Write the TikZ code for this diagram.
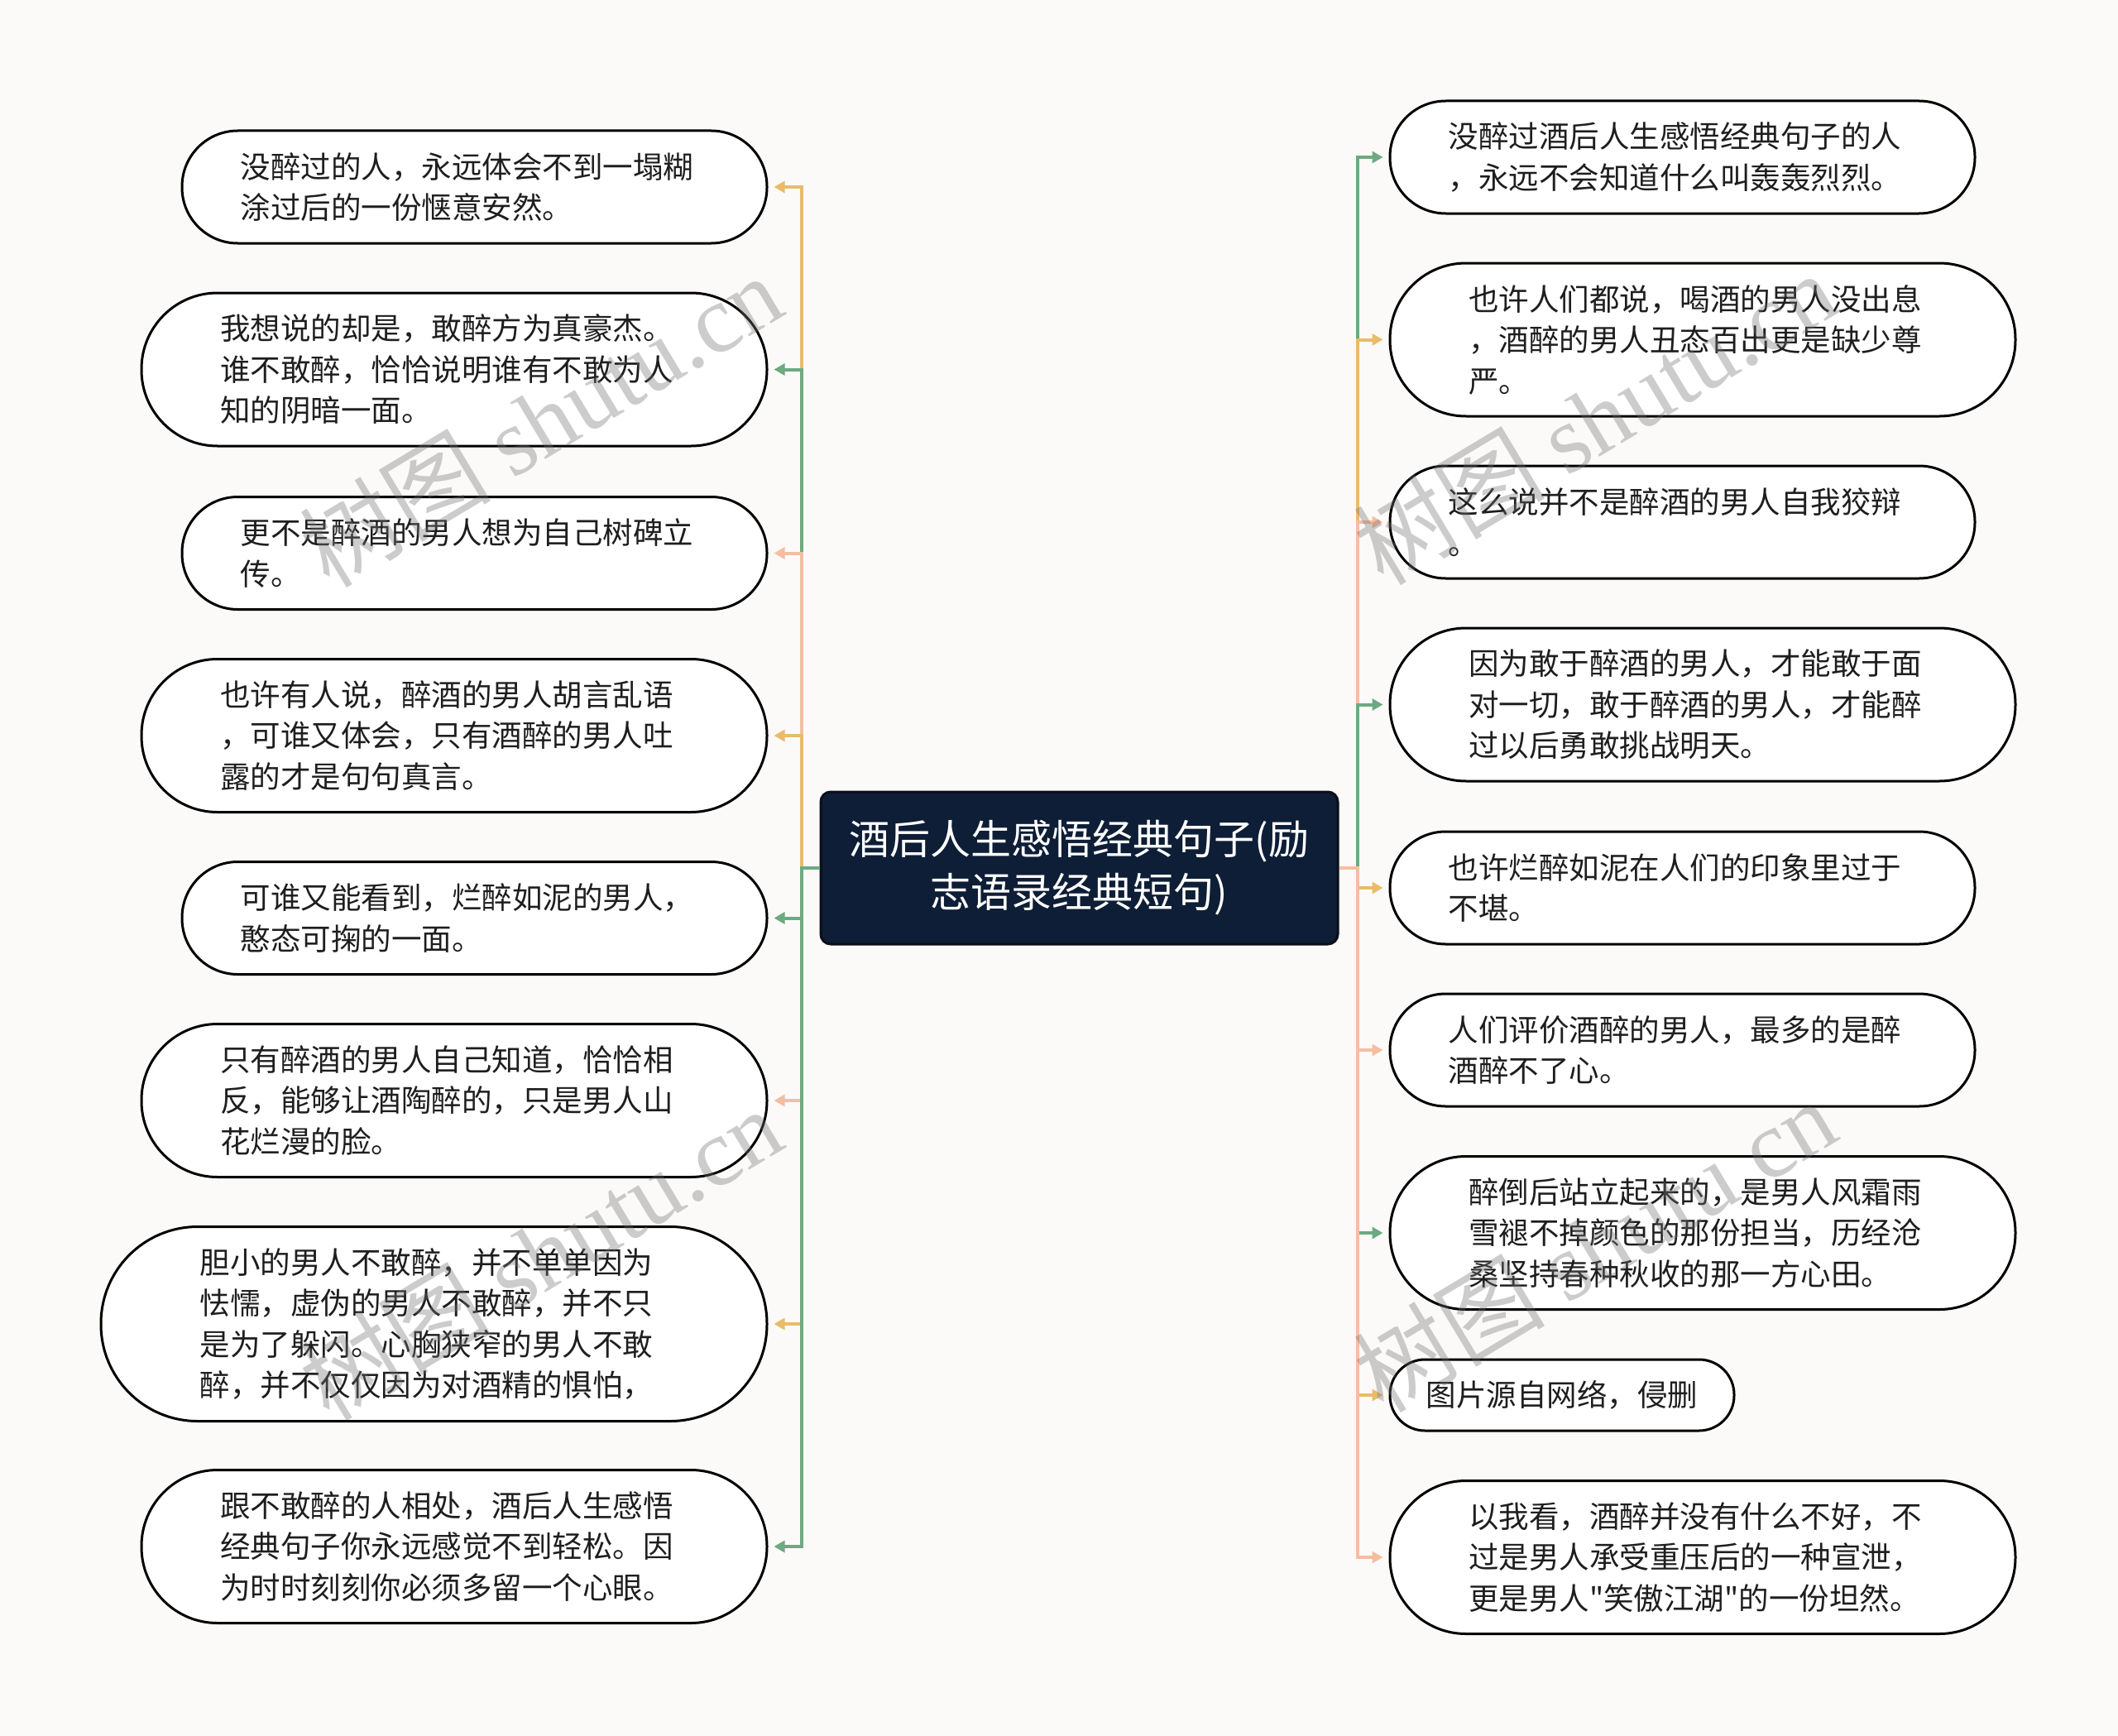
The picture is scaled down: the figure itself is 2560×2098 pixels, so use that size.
\documentclass[tikz,border=0pt]{standalone}
\usepackage{fontspec}
\setmainfont{Noto Sans CJK SC}
\newfontfamily\wmlatin{Liberation Serif}
\newcommand\sq{\XeTeXglyph\XeTeXcharglyph"22\relax}
\usetikzlibrary{arrows.meta}
\definecolor{bg}{HTML}{FCFAF9}
\definecolor{boxfill}{HTML}{FFFFFF}
\definecolor{navy}{HTML}{0E1E36}
\definecolor{navyline}{HTML}{0A0F1A}
\definecolor{cy}{HTML}{E9BC6A}
\definecolor{cg}{HTML}{6DAA80}
\definecolor{cp}{HTML}{F5BEA0}
\definecolor{txt}{HTML}{1E1E1E}
\tikzset{
  leaf/.style 2 args={draw=black, line width=3pt, fill=boxfill, inner sep=0pt,
    minimum width=#1pt, minimum height=#2pt, rounded corners=#2pt/2-0.6pt,
    text=txt, font=\fontsize{36.5}{49.5}\selectfont},
  wrap/.style={text width=566pt, align=left},
  root/.style={draw=navyline, line width=3pt, fill=navy, rounded corners=12pt,
    minimum width=625pt, minimum height=184pt, inner sep=0pt, text=white,
    align=center, font=\fontsize{49}{64}\selectfont},
  conn/.style={line width=4pt, -{Triangle[length=13pt,width=14pt]}, shorten >=7pt},
  wm/.style={text=black!55, text opacity=0.36, rotate=31, font=\fontsize{116}{120}\selectfont}
}
\begin{document}
\begin{tikzpicture}[x=1pt,y=-1pt]
\fill[bg] (0,0) rectangle (2560,2098);
\useasboundingbox (0,0) rectangle (2560,2098);

\node[root] (c) at (1304.5,1049) {酒后人生感悟经典句子(励\\志语录经典短句)};

% left
\node[leaf={707}{136}, wrap] (L1) at (573.5,226) {没醉过的人，永远体会不到一塌糊\\涂过后的一份惬意安然。};
\node[leaf={756}{185}, wrap] (L2) at (549,446.5) {我想说的却是，敢醉方为真豪杰。\\谁不敢醉，恰恰说明谁有不敢为人\\知的阴暗一面。};
\node[leaf={707}{136}, wrap] (L3) at (573.5,668.5) {更不是醉酒的男人想为自己树碑立\\传。};
\node[leaf={756}{185}, wrap] (L4) at (549,889) {也许有人说，醉酒的男人胡言乱语\\，可谁又体会，只有酒醉的男人吐\\露的才是句句真言。};
\node[leaf={707}{136}, wrap] (L5) at (573.5,1109.5) {可谁又能看到，烂醉如泥的男人，\\憨态可掬的一面。};
\node[leaf={756}{185}, wrap] (L6) at (549,1330) {只有醉酒的男人自己知道，恰恰相\\反，能够让酒陶醉的，只是男人山\\花烂漫的脸。};
\node[leaf={805}{235}, wrap] (L7) at (524.5,1600) {胆小的男人不敢醉，并不单单因为\\怯懦，虚伪的男人不敢醉，并不只\\是为了躲闪。心胸狭窄的男人不敢\\醉，并不仅仅因为对酒精的惧怕，};
\node[leaf={756}{185}, wrap] (L8) at (549,1869) {跟不敢醉的人相处，酒后人生感悟\\经典句子你永远感觉不到轻松。因\\为时时刻刻你必须多留一个心眼。};

% right
\node[leaf={707}{136}, wrap] (R1) at (2033.5,190) {没醉过酒后人生感悟经典句子的人\\，永远不会知道什么叫轰轰烈烈。};
\node[leaf={756}{185}, wrap] (R2) at (2058,410.5) {也许人们都说，喝酒的男人没出息\\，酒醉的男人丑态百出更是缺少尊\\严。};
\node[leaf={707}{136}, wrap] (R3) at (2033.5,631) {这么说并不是醉酒的男人自我狡辩\\。};
\node[leaf={756}{185}, wrap] (R4) at (2058,851.5) {因为敢于醉酒的男人，才能敢于面\\对一切，敢于醉酒的男人，才能醉\\过以后勇敢挑战明天。};
\node[leaf={707}{136}, wrap] (R5) at (2033.5,1073) {也许烂醉如泥在人们的印象里过于\\不堪。};
\node[leaf={707}{136}, wrap] (R6) at (2033.5,1269) {人们评价酒醉的男人，最多的是醉\\酒醉不了心。};
\node[leaf={756}{185}, wrap] (R7) at (2058,1490) {醉倒后站立起来的，是男人风霜雨\\雪褪不掉颜色的那份担当，历经沧\\桑坚持春种秋收的那一方心田。};
\node[leaf={416}{86}] (R8) at (1888,1686) {图片源自网络，侵删};
\node[leaf={756}{185}, wrap] (R9) at (2058,1882) {以我看，酒醉并没有什么不好，不\\过是男人承受重压后的一种宣泄，\\更是男人\sq 笑傲江湖\sq 的一份坦然。};

\path (c.west) ++(-22,0) coordinate (tl);
\path (c.east) ++(22,0) coordinate (tr);

\draw[conn, cy] (c.west) -- (tl) |- (L1.east);
\draw[conn, cg] (c.west) -- (tl) |- (L2.east);
\draw[conn, cp] (c.west) -- (tl) |- (L3.east);
\draw[conn, cy] (c.west) -- (tl) |- (L4.east);
\draw[conn, cg] (c.west) -- (tl) |- (L5.east);
\draw[conn, cp] (c.west) -- (tl) |- (L6.east);
\draw[conn, cy] (c.west) -- (tl) |- (L7.east);
\draw[conn, cg] (c.west) -- (tl) |- (L8.east);

\draw[conn, cg] (c.east) -- (tr) |- (R1.west);
\draw[conn, cy] (c.east) -- (tr) |- (R2.west);
\draw[conn, cp] (c.east) -- (tr) |- (R3.west);
\draw[conn, cg] (c.east) -- (tr) |- (R4.west);
\draw[conn, cy] (c.east) -- (tr) |- (R5.west);
\draw[conn, cp] (c.east) -- (tr) |- (R6.west);
\draw[conn, cg] (c.east) -- (tr) |- (R7.west);
\draw[conn, cy] (c.east) -- (tr) |- (R8.west);
\draw[conn, cp] (c.east) -- (tr) |- (R9.west);

% watermarks
\node[wm] (w1) at (653,508) {树图 {\wmlatin shutu.cn}};
\node[wm] (w2) at (653,1515) {树图 {\wmlatin shutu.cn}};
\node[wm] (w3) at (1927,505) {树图 {\wmlatin shutu.cn}};
\node[wm] (w4) at (1927,1505) {树图 {\wmlatin shutu.cn}};
\end{tikzpicture}
\end{document}
